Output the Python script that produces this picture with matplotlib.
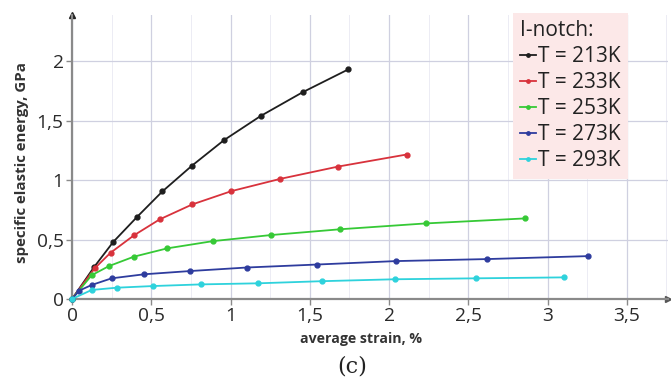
import matplotlib
matplotlib.use("Agg")
import matplotlib.pyplot as plt
from matplotlib.ticker import MultipleLocator, FuncFormatter

plt.rcParams['font.family'] = ['Open Sans', 'DejaVu Sans']

# ---- data ----
x213 = [0, 0.14, 0.26, 0.41, 0.57, 0.755, 0.958, 1.19, 1.455, 1.744]
y213 = [0, 0.27, 0.48, 0.69, 0.905, 1.12, 1.336, 1.54, 1.74, 1.933]

x233 = [0, 0.143, 0.243, 0.39, 0.553, 0.759, 1.006, 1.314, 1.681, 2.111]
y233 = [0, 0.258, 0.389, 0.535, 0.67, 0.796, 0.908, 1.011, 1.115, 1.216]

x253 = [0, 0.124, 0.233, 0.39, 0.6, 0.889, 1.254, 1.693, 2.231, 2.855]
y253 = [0, 0.2, 0.277, 0.356, 0.426, 0.487, 0.538, 0.587, 0.636, 0.678]

x273 = [0, 0.045, 0.124, 0.25, 0.455, 0.742, 1.103, 1.545, 2.042, 2.618, 3.258]
y273 = [0, 0.07, 0.118, 0.174, 0.208, 0.235, 0.265, 0.29, 0.319, 0.336, 0.361]

x293 = [0, 0.124, 0.281, 0.511, 0.816, 1.172, 1.58, 2.035, 2.549, 3.105]
y293 = [0, 0.076, 0.095, 0.109, 0.123, 0.132, 0.15, 0.166, 0.174, 0.182]

labels = ['T = 213K', 'T = 233K', 'T = 253K', 'T = 273K', 'T = 293K']
colors = ['#1e1e1e', '#d8323c', '#36c936', '#2e3c9e', '#2ed2dc']

xticks = [0, 0.5, 1, 1.5, 2, 2.5, 3, 3.5]
yticks = [0, 0.5, 1, 1.5, 2]

series = [(x213, y213), (x233, y233), (x253, y253), (x273, y273), (x293, y293)]

fig = plt.figure(figsize=(6.71, 3.90), dpi=100)
ax = fig.add_axes([72/671, 1-299/390, 1-72/671-3/671, (299-15)/390])

for (xs, ys), c, lab in zip(series, colors, labels):
    ax.plot(xs, ys, color=c, lw=1.3, marker='o', ms=3.5, label=lab, clip_on=False, zorder=3)

ax.set_xlim(0, 3.76)
ax.set_ylim(0, 2.39)
ax.set_xticks(xticks)
ax.set_yticks(yticks)
ax.xaxis.set_minor_locator(MultipleLocator(0.25))

def fmt(v, pos):
    s = ('%g' % v).replace('.', ',')
    return s
ax.xaxis.set_major_formatter(FuncFormatter(fmt))
ax.yaxis.set_major_formatter(FuncFormatter(fmt))

ax.grid(True, which='major', color='#cfd0e0', lw=0.9, zorder=0)
ax.grid(True, which='minor', axis='x', color='#ececf4', lw=0.7, zorder=0)

for s in ['top', 'right']:
    ax.spines[s].set_visible(False)
for s in ['left', 'bottom']:
    ax.spines[s].set_color('#8a8a8a')
    ax.spines[s].set_linewidth(1.6)

ax.tick_params(axis='both', which='major', direction='out', length=4, width=1,
               color='#8a8a8a', labelsize=13.8, labelcolor='#2a2a2a', pad=2)
ax.tick_params(axis='both', which='minor', length=0)

# small arrow heads at the axis ends
ax.plot([0], [1], marker='^', ms=4, color='#222222', transform=ax.transAxes, clip_on=False)
ax.plot([1], [0], marker='>', ms=4, color='#555555', transform=ax.transAxes, clip_on=False)

fig.text(361/671, 1-339/390, 'average strain, %', ha='center', va='center',
         fontsize=10.2, fontweight='bold', color='#333333')
fig.text(22/671, 1-163/390, 'specific elastic energy, GPa', ha='center', va='center',
         rotation=90, fontsize=10.8, fontweight='bold', color='#333333')
fig.text(352/671, 1-366/390, '(c)', ha='center', va='center',
         fontsize=16, family='DejaVu Serif', color='#222222')

leg = fig.legend(loc='upper left', bbox_to_anchor=(513/671, 1-13/390),
                 bbox_transform=fig.transFigure, title='I-notch:',
                 alignment='left', fontsize=15, title_fontsize=15,
                 handlelength=0.75, handletextpad=0.1, labelspacing=0.24,
                 borderpad=0.35, borderaxespad=0, frameon=True, fancybox=False,
                 markerscale=0.7)
leg.get_frame().set_facecolor('#fce8e8')
leg.get_frame().set_edgecolor('none')
leg.get_frame().set_alpha(1)
for t in leg.get_texts():
    t.set_color('#222222')
leg.get_title().set_color('#222222')

fig.savefig('out.png', dpi=100)
